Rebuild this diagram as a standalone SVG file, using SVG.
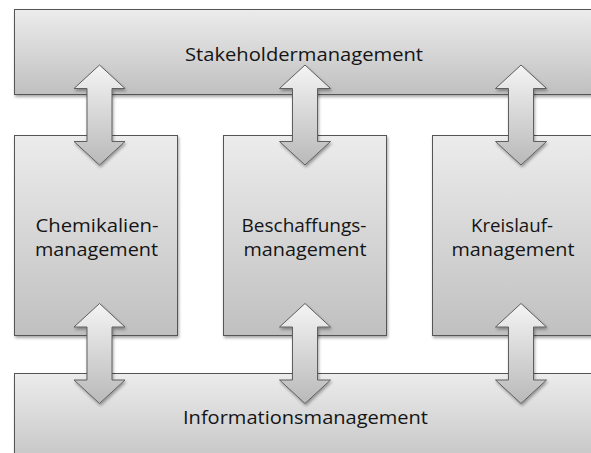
<svg xmlns="http://www.w3.org/2000/svg" xmlns:xlink="http://www.w3.org/1999/xlink" width="591" height="453" viewBox="0 0 591 453">
  <defs>
    <linearGradient id="boxFill" x1="0" y1="0" x2="0" y2="1">
      <stop offset="0" stop-color="#ececec"/>
      <stop offset="1" stop-color="#c0c0c0"/>
    </linearGradient>
    <linearGradient id="arrowFill" x1="0" y1="0" x2="0" y2="1">
      <stop offset="0" stop-color="#f4f4f4"/>
      <stop offset="1" stop-color="#b9b9b9"/>
    </linearGradient>
    <filter id="shadow" x="-10%" y="-10%" width="130%" height="130%">
      <feDropShadow dx="1" dy="2" stdDeviation="1.5" flood-color="#000" flood-opacity="0.35"/>
    </filter>
    <!-- double-headed vertical arrow, 100 tall, centred on x=0 -->
    <path id="dblArrow" d="M0,0 L25.5,23.5 L12.5,23.5 L12.5,76.5 L25.5,76.5 L0,100 L-25.5,76.5 L-12.5,76.5 L-12.5,23.5 L-25.5,23.5 Z"/>
  </defs>
  <style>
    .box { fill: url(#boxFill); stroke: #555; stroke-width: 1; filter: url(#shadow); }
    .arrow { fill: url(#arrowFill); stroke: #5e5e5e; stroke-width: 1; stroke-linejoin: miter; filter: url(#shadow); }
    .label { font-family: "Open Sans", "Noto Sans", "Liberation Sans", sans-serif; font-size: 18.5px; fill: #141414; text-anchor: middle; }
  </style>

  <rect width="591" height="453" fill="#ffffff"/>

  <g id="stakeholder">
    <rect class="box" x="14.5" y="9.5" width="600" height="85"/>
    <text class="label" x="304" y="61" textLength="238" lengthAdjust="spacingAndGlyphs">Stakeholdermanagement</text>
  </g>

  <g id="information">
    <rect class="box" x="14.5" y="373.5" width="600" height="100"/>
    <text class="label" x="305.5" y="424" textLength="245" lengthAdjust="spacingAndGlyphs">Informationsmanagement</text>
  </g>

  <g id="chemicals">
    <rect class="box" x="14.5" y="135.5" width="163" height="200"/>
    <text class="label" x="97" y="231.5" textLength="123" lengthAdjust="spacingAndGlyphs">Chemikalien-</text>
    <text class="label" x="96.5" y="255.5" textLength="123" lengthAdjust="spacingAndGlyphs">management</text>
  </g>

  <g id="procurement">
    <rect class="box" x="223.5" y="135.5" width="163" height="200"/>
    <text class="label" x="304" y="231.5" textLength="125" lengthAdjust="spacingAndGlyphs">Beschaffungs-</text>
    <text class="label" x="305" y="255.5" textLength="123" lengthAdjust="spacingAndGlyphs">management</text>
  </g>

  <g id="recycling">
    <rect class="box" x="432.5" y="135.5" width="163" height="200"/>
    <text class="label" x="512" y="231.5" textLength="82" lengthAdjust="spacingAndGlyphs">Kreislauf-</text>
    <text class="label" x="513" y="255.5" textLength="123" lengthAdjust="spacingAndGlyphs">management</text>
  </g>

  <g id="connectors">
    <use class="arrow" xlink:href="#dblArrow" transform="translate(99.5,65)"/>
    <use class="arrow" xlink:href="#dblArrow" transform="translate(305,65)"/>
    <use class="arrow" xlink:href="#dblArrow" transform="translate(521,65)"/>
    <use class="arrow" xlink:href="#dblArrow" transform="translate(99.5,303.5)"/>
    <use class="arrow" xlink:href="#dblArrow" transform="translate(305,303.5)"/>
    <use class="arrow" xlink:href="#dblArrow" transform="translate(521,303.5)"/>
  </g>
</svg>
